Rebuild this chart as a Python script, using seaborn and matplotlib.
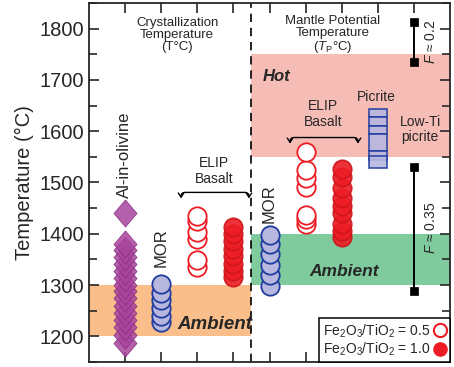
import numpy as np
import pandas as pd
import matplotlib
matplotlib.use("Agg")
import matplotlib.pyplot as plt
from matplotlib.lines import Line2D
import seaborn as sns

# temperatures (degC)
al_olivine = [1187, 1203, 1218, 1232, 1246, 1260, 1274, 1288, 1300, 1313, 1327, 1341, 1355, 1368, 1380, 1440]
mor_cryst = [1228, 1240, 1255, 1270, 1285, 1303]
elip05_cryst = [1335, 1349, 1389, 1403, 1424, 1434]
elip10_cryst = [1315, 1328, 1342, 1356, 1370, 1385, 1400, 1414]
mor_tp = [1299, 1320, 1340, 1360, 1380, 1397]
elip05_tp = [1420, 1428, 1437, 1492, 1508, 1524, 1560]
elip10_tp = [1393, 1405, 1420, 1440, 1455, 1470, 1490, 1510, 1526]
picrite_low = [1628, 1611, 1595, 1561, 1544, 1529]
picrite_high = [1644, 1628, 1611, 1595, 1561, 1552]
f_02 = [1735, 1813]
f_035 = [1288, 1530]

ambient_cryst = (1200, 1300)
hot_tp = (1550, 1750)
ambient_tp = (1300, 1400)

slot = {"al": 1, "mor_c": 2, "e05_c": 3, "e10_c": 4, "mor_t": 5,
        "e05_t": 6, "e10_t": 7, "pic": 8, "f": 9}

def frame(key, vals):
    return pd.DataFrame({"x": [slot[key]] * len(vals), "T": vals})

sns.set_style("ticks")
plt.rcParams['font.family'] = ['Liberation Sans', 'DejaVu Sans']
plt.rcParams['mathtext.fontset'] = 'custom'
plt.rcParams['mathtext.rm'] = 'Liberation Sans'
plt.rcParams['mathtext.it'] = 'Liberation Sans:italic'
plt.rcParams['mathtext.bf'] = 'Liberation Sans:bold'

RED = '#ED1C24'
BLUE_E = '#1F3C9E'
BLUE_F = '#B7B7E0'
PURPLE = '#A8449C'

fig = plt.figure(figsize=(4.54, 3.67), dpi=100)
ax = fig.add_axes([89/454, 5/367, 361/454, 359/367])
ax.set_xlim(0, 10)
ax.set_ylim(1150, 1850)

# shaded bands
ax.fill_between([0, 4.5], *ambient_cryst, color='#F9BE8A', lw=0, zorder=0)
ax.fill_between([4.5, 10], *hot_tp, color='#F6BDB6', lw=0, zorder=0)
ax.fill_between([4.5, 10], *ambient_tp, color='#80CB9E', lw=0, zorder=0)
ax.axvline(4.5, color='black', lw=1.2, dashes=(5, 3.5), zorder=1)

diamond = [(0, 1), (0.85, 0), (0, -1), (-0.85, 0), (0, 1)]
sns.scatterplot(data=frame("al", al_olivine), x="x", y="T", marker=diamond, s=380,
                color=PURPLE, edgecolor='#8A2C82', linewidth=0.6, alpha=0.85, ax=ax, zorder=3)

circ = dict(marker='o', s=175, linewidth=1.3, ax=ax, zorder=3)
for key, vals in [("mor_c", mor_cryst), ("mor_t", mor_tp)]:
    sns.scatterplot(data=frame(key, vals), x="x", y="T", color=BLUE_F, edgecolor=BLUE_E, **circ)
for key, vals in [("e05_c", elip05_cryst), ("e05_t", elip05_tp)]:
    sns.scatterplot(data=frame(key, vals), x="x", y="T", color='white', edgecolor=RED, **circ)
for key, vals in [("e10_c", elip10_cryst), ("e10_t", elip10_tp)]:
    sns.scatterplot(data=frame(key, vals), x="x", y="T", color=RED, edgecolor='#D0151C',
                    alpha=0.9, **circ)

# picrite boxes
ax.bar([slot["pic"]] * len(picrite_low), np.array(picrite_high) - np.array(picrite_low),
       bottom=picrite_low, width=0.5, color=BLUE_F, edgecolor=BLUE_E, linewidth=1.2,
       alpha=0.9, zorder=3)

# melt fraction bars
for vals in (f_02, f_035):
    sns.lineplot(x=[slot["f"]] * 2, y=vals, color='black', lw=1.4, estimator=None,
                 sort=False, ax=ax, zorder=3)
    sns.scatterplot(x=[slot["f"]] * 2, y=vals, marker='s', s=40, color='black',
                    edgecolor='black', ax=ax, zorder=4)

# text
ax.text(2.44, 1787, "Crystallization\nTemperature\n(T°C)", ha='center', va='center',
        fontsize=9.5, linespacing=1.0)
ax.text(6.76, 1787, "Mantle Potential\nTemperature\n($T_{\\mathrm{P}}$°C)", ha='center',
        va='center', fontsize=9.5, linespacing=1.0)
ax.text(4.8, 1707, "Hot", fontsize=12, fontweight='bold', style='italic', va='center')
ax.text(3.49, 1223, "Ambient", fontsize=13.5, fontweight='bold', style='italic',
        ha='center', va='center')
ax.text(7.08, 1327, "Ambient", fontsize=12.5, fontweight='bold', style='italic',
        ha='center', va='center')
ax.text(3.46, 1523, "ELIP\nBasalt", fontsize=10, ha='center', va='center', linespacing=1.15)
ax.text(6.48, 1633, "ELIP\nBasalt", fontsize=10, ha='center', va='center', linespacing=1.15)
ax.text(7.97, 1666, "Picrite", fontsize=10, ha='center', va='center')
ax.text(9.17, 1604, "Low-Ti\npicrite", fontsize=10, ha='center', va='center', linespacing=1.1)
ax.text(0.97, 1470, "Al-in-olivine", fontsize=12, rotation=90, ha='center', va='bottom')
ax.text(2, 1335, "MOR", fontsize=12, rotation=90, ha='center', va='bottom')
ax.text(5, 1422, "MOR", fontsize=12, rotation=90, ha='center', va='bottom')
ax.text(9.47, 1775, "$F$ ≈ 0.2", fontsize=10, rotation=90, ha='center', va='center')
ax.text(9.47, 1412, "$F$ ≈ 0.35", fontsize=10, rotation=90, ha='center', va='center')

arrow = dict(arrowstyle='<->,head_length=0.3,head_width=0.2', color='black', lw=1.0,
             shrinkA=0, shrinkB=0,
             connectionstyle='arc,angleA=90,angleB=90,armA=6,armB=6,rad=4')
ax.annotate("", xy=(4.43, 1469), xytext=(2.55, 1469), arrowprops=arrow)
ax.annotate("", xy=(7.45, 1576), xytext=(5.57, 1576), arrowprops=arrow)

# legend
handles = [Line2D([], [], ls='none', marker='o', markersize=9.5, markerfacecolor='white',
                  markeredgecolor=RED, markeredgewidth=1.5),
           Line2D([], [], ls='none', marker='o', markersize=9.5, markerfacecolor=RED,
                  markeredgecolor=RED)]
leg = ax.legend(handles, ["Fe$_2$O$_3$/TiO$_2$ = 0.5", "Fe$_2$O$_3$/TiO$_2$ = 1.0"],
                loc='lower right', markerfirst=False, fontsize=10, borderaxespad=0,
                handlelength=0.8, handletextpad=0.3, labelspacing=0.05, borderpad=0.3,
                fancybox=False, framealpha=1)
leg.get_frame().set_edgecolor('black')
leg.get_frame().set_linewidth(1.1)

# axes styling
ax.set_xticks(range(1, 10))
ax.set_xticklabels([])
ax.set_yticks(range(1200, 1801, 100))
ax.set_yticks(range(1150, 1851, 50), minor=True)
ax.tick_params(axis='both', which='both', direction='in', top=True, right=True,
               width=1.2, length=7, labelsize=14.5)
ax.tick_params(axis='y', which='minor', length=6)
ax.set_xlabel("")
ax.set_ylabel("Temperature (°C)", fontsize=14.5, labelpad=4)
for s in ax.spines.values():
    s.set_linewidth(1.3)

plt.savefig("out.png", dpi=100)
